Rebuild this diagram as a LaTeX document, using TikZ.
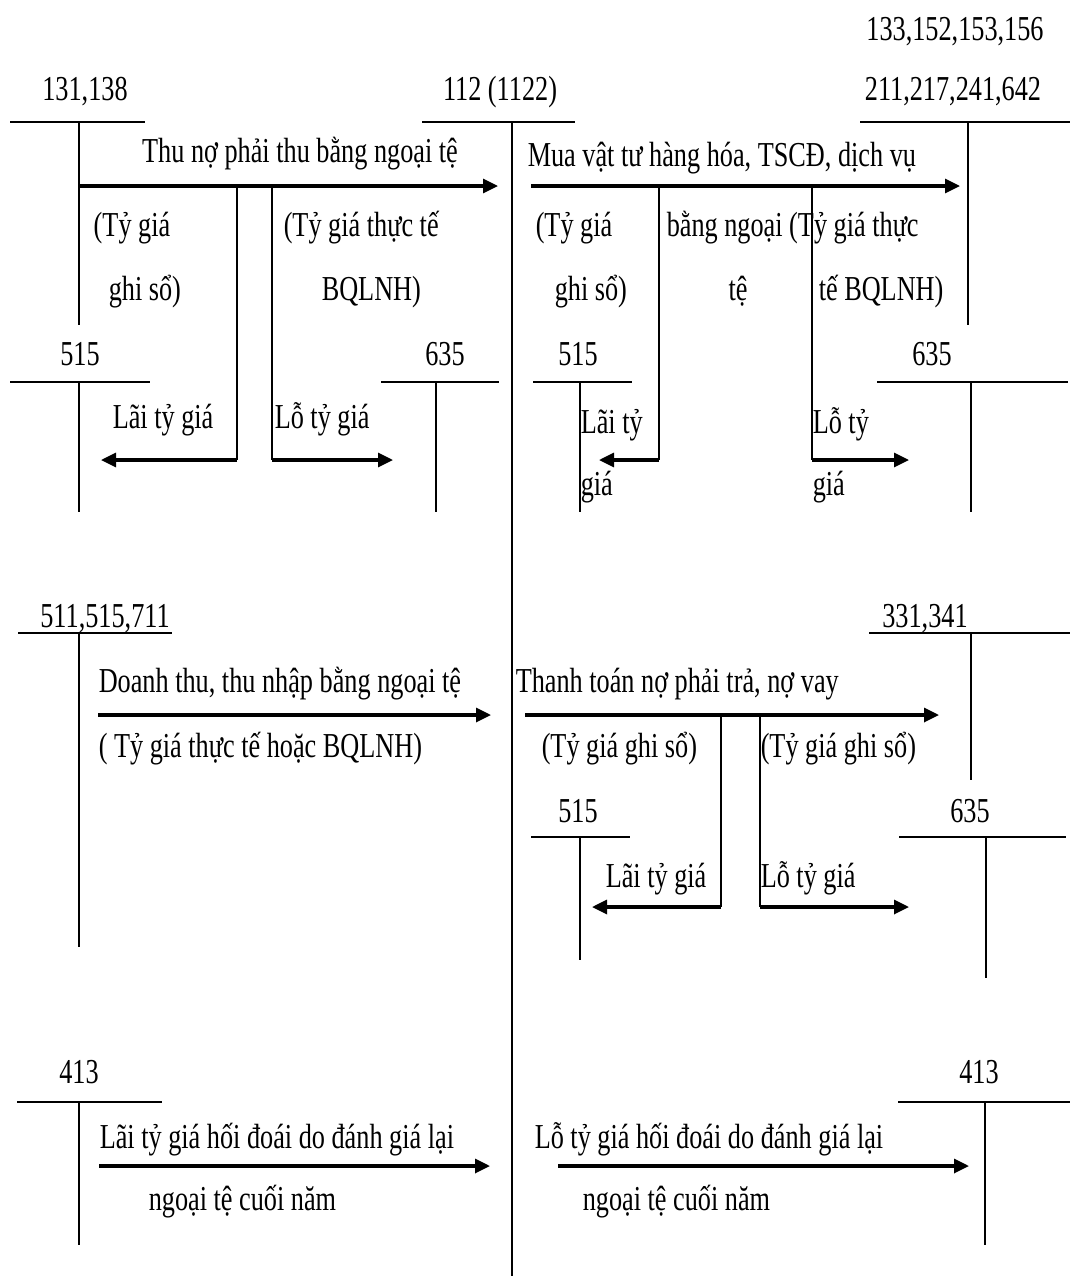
\documentclass[tikz,border=0pt]{standalone}
\usepackage{fontspec}
\setmainfont{Liberation Serif}[FakeStretch=0.75]
\usetikzlibrary{arrows.meta}

\begin{document}
\begin{tikzpicture}[x=0.5pt,y=-0.5pt,line width=0.75pt,
  every node/.style={font=\fontsize{17.5}{20}\selectfont,inner sep=0pt},
  lbl/.style={anchor=base},
  txt/.style={anchor=base west},
  flow/.style={line width=1.6pt,-{Triangle[length=7.5pt,width=7pt]}}]
  \useasboundingbox (0,0) rectangle (1073,1276);

  \node[lbl] (tk112) at (500,100) {112 (1122)};
  \draw (422,122) -- (575,122) (512,122) -- (512,1276);

  \node[lbl] (tk131) at (85,100) {131,138};
  \draw (10,122) -- (145,122) (79,122) -- (79,325);
  \node[lbl] (tk133) at (955,40) {133,152,153,156};
  \node[lbl] (tk211) at (953,100) {211,217,241,642};
  \draw (860,122) -- (1070,122) (968,122) -- (968,325);

  \coordinate (thuA) at (79,186);
  \coordinate (thuB) at (498,186);
  \draw[flow] (thuA) -- (thuB);
  \node[lbl] (thu) at (300,162) {Thu nợ phải thu bằng ngoại tệ};
  \coordinate (laiA) at (237,186);
  \coordinate (laiB) at (101,460);
  \draw (laiA) -- (laiA |- laiB);
  \draw[flow] (laiA |- laiB) -- (laiB);
  \coordinate (loA) at (272,186);
  \coordinate (loB) at (393,460);
  \draw (loA) -- (loA |- loB);
  \draw[flow] (loA |- loB) -- (loB);
  \node[txt] (gsA1) at (93,236) {(Tỷ giá};
  \node[txt] (gsA2) at (108,300) {ghi sổ)};
  \node[txt] (ttA1) at (283,236) {(Tỷ giá thực tế};
  \node[txt] (ttA2) at (321,300) {BQLNH)};

  \node[lbl] (tk515a) at (80,365) {515};
  \draw (10,382) -- (150,382) (79,382) -- (79,512);
  \node[lbl] (tk635a) at (445,365) {635};
  \draw (381,382) -- (499,382) (436,382) -- (436,512);
  \node[txt] (laiA1) at (112,428) {Lãi tỷ giá};
  \node[txt] (loA1) at (274,428) {Lỗ tỷ giá};

  \coordinate (muaA) at (531,186);
  \coordinate (muaB) at (960,186);
  \draw[flow] (muaA) -- (muaB);
  \node[txt] (mua) at (527,166) {Mua vật tư hàng hóa, TSCĐ, dịch vụ};
  \coordinate (laiC) at (659,186);
  \coordinate (laiD) at (599,460);
  \draw (laiC) -- (laiC |- laiD);
  \draw[flow] (laiC |- laiD) -- (laiD);
  \coordinate (loC) at (812,186);
  \coordinate (loD) at (909,460);
  \draw (loC) -- (loC |- loD);
  \draw[flow] (loC |- loD) -- (loD);
  \node[txt] (gsB1) at (535,236) {(Tỷ giá};
  \node[txt] (gsB2) at (554,300) {ghi sổ)};
  \node[txt] (bnB1) at (666,236) {bằng ngoại (Tỷ giá thực};
  \node[lbl] (bnB2) at (738,300) {tệ};
  \node[txt] (ttB2) at (818,300) {tế BQLNH)};

  \node[lbl] (tk515b) at (578,365) {515};
  \draw (533,382) -- (632,382) (580,382) -- (580,512);
  \node[lbl] (tk635b) at (932,365) {635};
  \draw (877,382) -- (1068,382) (971,382) -- (971,512);
  \node[txt] (laiB1) at (580,433) {Lãi tỷ};
  \node[txt] (laiB2) at (580,495) {giá};
  \node[txt] (loB1) at (812,433) {Lỗ tỷ};
  \node[txt] (loB2) at (812,495) {giá};

  \node[lbl] (tk511) at (105,627) {511,515,711};
  \draw (18,633) -- (172,633) (79,633) -- (79,947);
  \coordinate (dtA) at (98,715);
  \coordinate (dtB) at (491,715);
  \draw[flow] (dtA) -- (dtB);
  \node[txt] (dt) at (98,692) {Doanh thu, thu nhập bằng ngoại tệ};
  \node[txt] (dtTg) at (98,757) {( Tỷ giá thực tế hoặc BQLNH)};

  \node[lbl] (tk331) at (925,627) {331,341};
  \draw (869,633) -- (1070,633) (971,633) -- (971,780);
  \coordinate (ttoanA) at (525,715);
  \coordinate (ttoanB) at (939,715);
  \draw[flow] (ttoanA) -- (ttoanB);
  \node[txt] (ttoan) at (515,692) {Thanh toán nợ phải trả, nợ vay};
  \coordinate (laiE) at (721,715);
  \coordinate (laiF) at (592,907);
  \draw (laiE) -- (laiE |- laiF);
  \draw[flow] (laiE |- laiF) -- (laiF);
  \coordinate (loE) at (760,715);
  \coordinate (loF) at (909,907);
  \draw (loE) -- (loE |- loF);
  \draw[flow] (loE |- loF) -- (loF);
  \node[txt] (gsC1) at (541,757) {(Tỷ giá ghi sổ)};
  \node[txt] (gsC2) at (760,757) {(Tỷ giá ghi sổ)};

  \node[lbl] (tk515c) at (578,822) {515};
  \draw (531,837) -- (630,837) (580,837) -- (580,960);
  \node[lbl] (tk635c) at (970,822) {635};
  \draw (899,837) -- (1066,837) (986,837) -- (986,978);
  \node[txt] (laiC1) at (605,887) {Lãi tỷ giá};
  \node[txt] (loC1) at (760,887) {Lỗ tỷ giá};

  \node[lbl] (tk413a) at (79,1083) {413};
  \draw (17,1102) -- (162,1102) (79,1102) -- (79,1245);
  \coordinate (dgA) at (99,1166);
  \coordinate (dgB) at (490,1166);
  \draw[flow] (dgA) -- (dgB);
  \node[txt] (dgA1) at (99,1148) {Lãi tỷ giá hối đoái do đánh giá lại};
  \node[txt] (dgA2) at (148,1210) {ngoại tệ cuối năm};

  \node[lbl] (tk413b) at (979,1083) {413};
  \draw (898,1102) -- (1070,1102) (985,1102) -- (985,1245);
  \coordinate (dgC) at (558,1166);
  \coordinate (dgD) at (969,1166);
  \draw[flow] (dgC) -- (dgD);
  \node[txt] (dgB1) at (534,1148) {Lỗ tỷ giá hối đoái do đánh giá lại};
  \node[txt] (dgB2) at (582,1210) {ngoại tệ cuối năm};
\end{tikzpicture}
\end{document}
